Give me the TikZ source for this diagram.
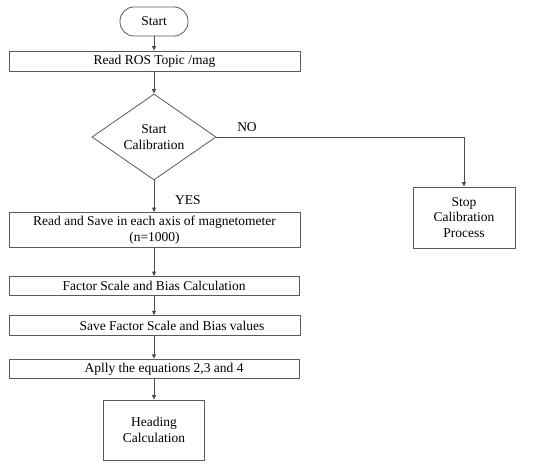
\documentclass[tikz,border=0pt]{standalone}
\usepackage{fontspec}
\setmainfont{Liberation Serif}
\usetikzlibrary{shapes.geometric,arrows.meta}
\begin{document}
\begin{tikzpicture}[x=1pt,y=-1pt,
  box/.style={draw=black!65,line width=0.8pt,inner sep=0pt,align=center,font=\fontsize{13.5}{15.6}\selectfont,text=black},
  flow/.style={draw=black!70,line width=0.8pt,-{Triangle[length=4.5pt,width=4pt]}},
  lbl/.style={font=\fontsize{13.5}{15}\selectfont,text=black}]
\useasboundingbox (0,0) rectangle (550,470);
\node[box,rounded corners=14pt,minimum width=68pt,minimum height=29pt] (start) at (154,21.5) {Start};
\node[box,minimum width=291pt,minimum height=20pt] (ros) at (154.5,61) {Read ROS Topic /mag};
\node[box,shape=diamond,aspect=1.44,minimum width=124pt,minimum height=86pt] (dec) at (154,137) {Start\\Calibration};
\node[box,minimum width=102pt,minimum height=61pt] (stop) at (464,217.5) {Stop\\Calibration\\Process};
\node[box,minimum width=291pt,minimum height=35pt] (rs) at (154.5,230) {Read and Save in each axis of magnetometer\\(n=1000)};
\node[box,minimum width=290pt,minimum height=19pt] (fs) at (154,286) {Factor Scale and Bias Calculation};
\node[box,minimum width=291pt,minimum height=19.6pt] (sv) at (154.5,325.5) {\hspace{35pt}Save Factor Scale and Bias values};
\node[box,minimum width=290pt,minimum height=19.6pt] (ap) at (154,369) {\hspace{20pt}Aplly the equations 2,3 and 4};
\node[box,minimum width=101.5pt,minimum height=60pt] (hd) at (154,430) {Heading\\Calculation};
\node[lbl] (no) at (247,127) {NO};
\node[lbl] (yes) at (188,200) {YES};
\draw[flow] (start) -- (start.south |- ros.north);
\draw[flow] (start.south |- ros.south) -- (dec.north);
\draw[flow] (dec.south) -- (dec.south |- rs.north);
\draw[flow] (dec.south |- rs.south) -- (dec.south |- fs.north);
\draw[flow] (dec.south |- fs.south) -- (dec.south |- sv.north);
\draw[flow] (dec.south |- sv.south) -- (dec.south |- ap.north);
\draw[flow] (dec.south |- ap.south) -- (hd.north);
\draw[flow] (dec.east) -| (stop.north);
\end{tikzpicture}
\end{document}
